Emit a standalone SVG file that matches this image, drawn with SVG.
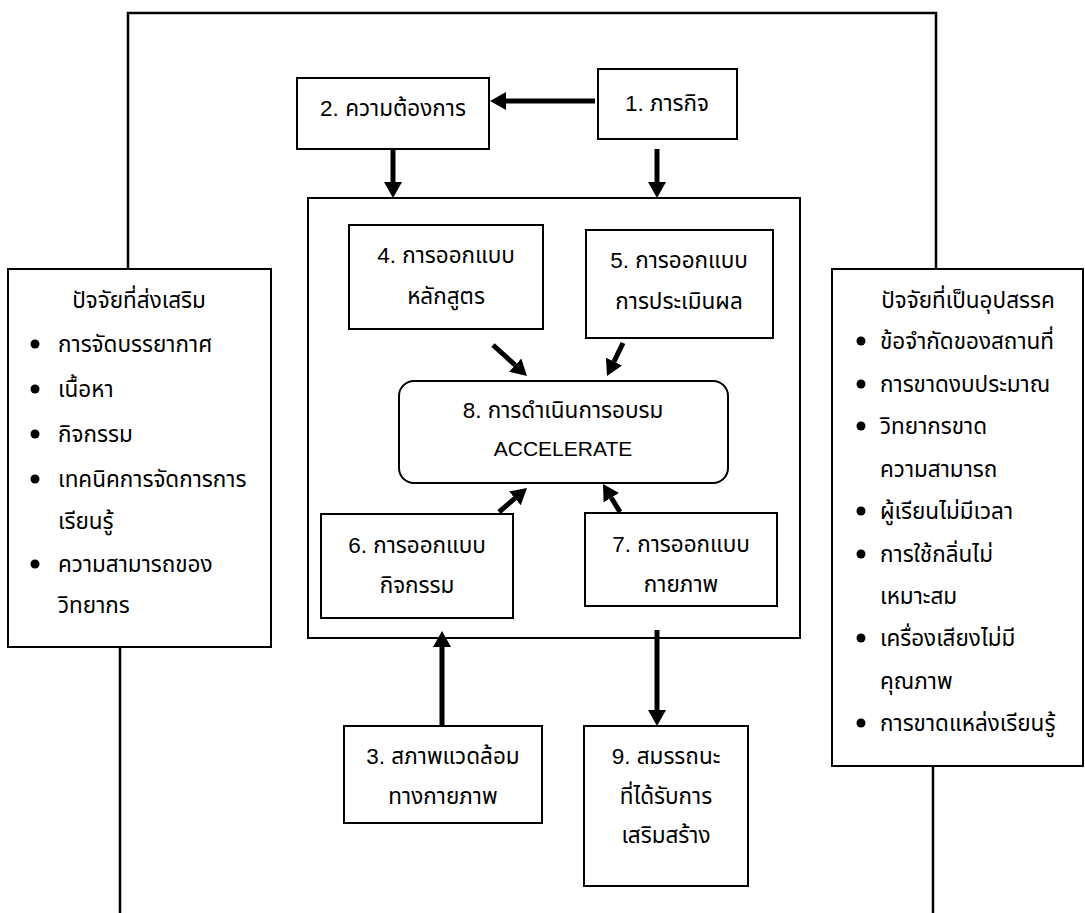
<svg xmlns="http://www.w3.org/2000/svg" width="1085" height="913" viewBox="0 0 1085 913">
<style>
  .box { fill: #fff; stroke: #000; stroke-width: 2; }
  .frame { fill: none; stroke: #000; stroke-width: 2; }
  .wire { fill: none; stroke: #000; stroke-width: 2.5; }
  .arr { fill: none; stroke: #000; stroke-width: 5; marker-end: url(#ah); }
  text { font-family: "Liberation Sans", "Noto Sans Thai", "DejaVu Sans", sans-serif; font-size: 22.5px; fill: #000; }
  .lat { font-size: 21px; }
  .c { text-anchor: middle; }
</style>
<defs>
  <marker id="ah" markerUnits="userSpaceOnUse" markerWidth="16" markerHeight="18" refX="0" refY="9" orient="auto">
    <path d="M0,0 L16,9 L0,18 z" fill="#000"/>
  </marker>
</defs>
<rect width="1085" height="913" fill="#fff"/>

<g id="connectors">
  <polyline class="wire" points="128,269 128,13 936,13 936,269"/>
  <line class="wire" x1="120" y1="647" x2="120" y2="913"/>
  <line class="wire" x1="933" y1="766" x2="933" y2="913"/>
  <line class="arr" x1="595" y1="101" x2="506" y2="101"/>
  <line class="arr" x1="393" y1="150" x2="393" y2="182"/>
  <line class="arr" x1="657" y1="149" x2="657" y2="182"/>
  <line class="arr" x1="493" y1="345" x2="515.2" y2="365.2"/>
  <line class="arr" x1="623" y1="343" x2="614" y2="361.6"/>
  <line class="arr" x1="499" y1="512" x2="514.9" y2="498.4"/>
  <line class="arr" x1="620" y1="512" x2="611.3" y2="497.7"/>
  <line class="arr" x1="442" y1="726" x2="442" y2="647"/>
  <line class="arr" x1="657" y1="630" x2="657" y2="710"/>
</g>

<g id="frame">
  <rect class="frame" x="308" y="198" width="492" height="440"/>
</g>

<g id="node1">
  <rect class="box" x="598" y="69" width="139" height="70"/>
  <text class="c" x="667" y="111">1. ภารกิจ</text>
</g>
<g id="node2">
  <rect class="box" x="297" y="78" width="192" height="71"/>
  <text class="c" x="393" y="116">2. ความต้องการ</text>
</g>
<g id="node4">
  <rect class="box" x="349" y="225" width="194" height="104"/>
  <text class="c" x="446" y="263">4. การออกแบบ</text>
  <text class="c" x="446" y="304">หลักสูตร</text>
</g>
<g id="node5">
  <rect class="box" x="586" y="230" width="187" height="108"/>
  <text class="c" x="679" y="268">5. การออกแบบ</text>
  <text class="c" x="679" y="309">การประเมินผล</text>
</g>
<g id="node8">
  <rect class="box" x="399" y="381" width="329" height="102" rx="15" ry="15"/>
  <text class="c" x="563" y="418">8. การดำเนินการอบรม</text>
  <text class="c lat" x="563" y="456">ACCELERATE</text>
</g>
<g id="node6">
  <rect class="box" x="321" y="514" width="192" height="104"/>
  <text class="c" x="417" y="553">6. การออกแบบ</text>
  <text class="c" x="417" y="593">กิจกรรม</text>
</g>
<g id="node7">
  <rect class="box" x="585" y="513" width="192" height="93"/>
  <text class="c" x="681" y="552">7. การออกแบบ</text>
  <text class="c" x="681" y="592">กายภาพ</text>
</g>
<g id="node3">
  <rect class="box" x="344" y="726" width="198" height="97"/>
  <text class="c" x="443" y="764">3. สภาพแวดล้อม</text>
  <text class="c" x="443" y="804">ทางกายภาพ</text>
</g>
<g id="node9">
  <rect class="box" x="584" y="726" width="164" height="160"/>
  <text class="c" x="666" y="764">9. สมรรถนะ</text>
  <text class="c" x="666" y="804">ที่ได้รับการ</text>
  <text class="c" x="666" y="843">เสริมสร้าง</text>
</g>

<g id="left-factors">
  <rect class="box" x="8" y="269" width="263" height="378"/>
  <text class="c" x="139" y="308">ปัจจัยที่ส่งเสริม</text>
  <circle cx="35" cy="344" r="4.5"/>
  <text x="58" y="352">การจัดบรรยากาศ</text>
  <circle cx="35" cy="389" r="4.5"/>
  <text x="58" y="397">เนื้อหา</text>
  <circle cx="35" cy="434" r="4.5"/>
  <text x="58" y="442">กิจกรรม</text>
  <circle cx="35" cy="479" r="4.5"/>
  <text x="58" y="487">เทคนิคการจัดการการ</text>
  <text x="58" y="529">เรียนรู้</text>
  <circle cx="35" cy="564" r="4.5"/>
  <text x="58" y="572">ความสามารถของ</text>
  <text x="58" y="613">วิทยากร</text>
</g>

<g id="right-factors">
  <rect class="box" x="832" y="269" width="251" height="497"/>
  <text class="c" x="968" y="308">ปัจจัยที่เป็นอุปสรรค</text>
  <circle cx="861" cy="341" r="4.5"/>
  <text x="880" y="349">ข้อจำกัดของสถานที่</text>
  <circle cx="861" cy="384" r="4.5"/>
  <text x="880" y="392">การขาดงบประมาณ</text>
  <circle cx="861" cy="426" r="4.5"/>
  <text x="880" y="434">วิทยากรขาด</text>
  <text x="880" y="477">ความสามารถ</text>
  <circle cx="861" cy="511" r="4.5"/>
  <text x="880" y="519">ผู้เรียนไม่มีเวลา</text>
  <circle cx="861" cy="554" r="4.5"/>
  <text x="880" y="562">การใช้กลิ่นไม่</text>
  <text x="880" y="604">เหมาะสม</text>
  <circle cx="861" cy="638" r="4.5"/>
  <text x="880" y="646">เครื่องเสียงไม่มี</text>
  <text x="880" y="689">คุณภาพ</text>
  <circle cx="861" cy="723" r="4.5"/>
  <text x="880" y="731">การขาดแหล่งเรียนรู้</text>
</g>
</svg>
